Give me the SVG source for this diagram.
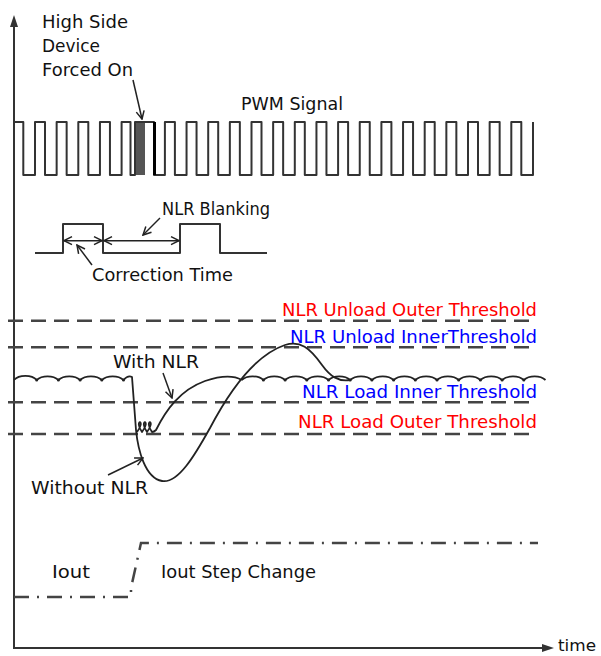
<svg xmlns="http://www.w3.org/2000/svg" width="601" height="656" viewBox="0 0 601 656">
<defs>
<style>
text{font-family:"DejaVu Sans","Liberation Sans",sans-serif;font-size:17px;fill:#111}
.red{fill:#ff0000}
.blue{fill:#0000ff}
.ax{stroke:#333;stroke-width:2;fill:none}
.sig{stroke:#333;stroke-width:2;fill:none;stroke-linejoin:round}
.dash{stroke:#444;stroke-width:2.5;fill:none;stroke-dasharray:15 8}
.dd{stroke:#444;stroke-width:2.5;fill:none;stroke-dasharray:15 8 2 8}
.arr{stroke:#222;stroke-width:1.5;fill:none;marker-end:url(#ah)}
.darr{stroke:#222;stroke-width:1.5;fill:none;marker-end:url(#ah);marker-start:url(#ah)}
.curve{stroke:#222;stroke-width:1.8;fill:none;stroke-linejoin:round}
</style>
<marker id="ah" markerUnits="userSpaceOnUse" markerWidth="10" markerHeight="10" viewBox="0 0 10 10" refX="9" refY="5" orient="auto-start-reverse">
<path d="M1,1 L9,5 L1,9" stroke="#222" stroke-width="1.5" fill="none"/>
</marker>
</defs>

<g id="axes">
<line class="ax" x1="14" y1="24" x2="14" y2="648"/>
<polygon points="14,15 10,27 18,27" fill="#333"/>
<line class="ax" x1="13" y1="648" x2="546" y2="648"/>
<polygon points="554,648 542,644 542,652" fill="#333"/>
<text x="558" y="651" style="font-size:15px" textLength="38" lengthAdjust="spacingAndGlyphs">time</text>
</g>

<g id="forced-on-label">
<text x="42" y="28" textLength="86" lengthAdjust="spacingAndGlyphs">High Side</text>
<text x="42" y="52" textLength="58" lengthAdjust="spacingAndGlyphs">Device</text>
<text x="42" y="76" textLength="91" lengthAdjust="spacingAndGlyphs">Forced On</text>
</g>

<g id="pwm-signal">
<rect x="135" y="122" width="10" height="53" fill="#555"/>
<path class="sig" d="M14,122 H23.3 V175 H35 V122 H45 V175 H56.65 V122 H66.65 V175 H78.3 V122 H88.3 V175 H99.95 V122 H109.95 V175 H121.6 V122 H130.5 V175 H135 V122 H154 V175 H164.9 V122 H174.9 V175 H186.55 V122 H196.55 V175 H208.2 V122 H218.2 V175 H229.85 V122 H239.85 V175 H251.5 V122 H261.5 V175 H273.15 V122 H283.15 V175 H294.8 V122 H304.8 V175 H316.45 V122 H326.45 V175 H338.1 V122 H348.1 V175 H359.75 V122 H369.75 V175 H381.4 V122 H391.4 V175 H403.05 V122 H413.05 V175 H424.7 V122 H434.7 V175 H446.35 V122 H456.35 V175 H468 V122 H478 V175 H489.65 V122 H499.65 V175 H511.3 V122 H521.3 V175 H533 V122"/>
<line x1="154.5" y1="122" x2="154.5" y2="175" stroke="#000" stroke-width="3"/>
<text x="241" y="110" textLength="102" lengthAdjust="spacingAndGlyphs">PWM Signal</text>
</g>

<g id="blanking">
<path class="sig" d="M35,253 H63 V224 H103 V253 H180 V224 H220 V253 H267"/>
<text x="162" y="215" textLength="108" lengthAdjust="spacingAndGlyphs">NLR Blanking</text>
<text x="92" y="281" textLength="141" lengthAdjust="spacingAndGlyphs">Correction Time</text>
</g>

<g id="thresholds">
<line class="dash" x1="8" y1="320.7" x2="537" y2="320.7"/>
<line class="dash" x1="8" y1="347.3" x2="537" y2="347.3"/>
<line class="dash" x1="8" y1="402.3" x2="537" y2="402.3"/>
<line class="dash" x1="8" y1="434" x2="537" y2="434"/>
<text class="red" x="282" y="316" textLength="255" lengthAdjust="spacingAndGlyphs">NLR Unload Outer Threshold</text>
<text class="blue" x="290" y="343" textLength="247" lengthAdjust="spacingAndGlyphs">NLR Unload InnerThreshold</text>
<text class="blue" x="302" y="398" textLength="235" lengthAdjust="spacingAndGlyphs">NLR Load Inner Threshold</text>
<text class="red" x="298" y="428" textLength="239" lengthAdjust="spacingAndGlyphs">NLR Load Outer Threshold</text>
</g>

<g id="output-voltage">
<path class="curve" d="M14,380 A13,8 0 0 1 36.7,380 A13,8 0 0 1 58.4,380 A13,8 0 0 1 80.1,380 A13,8 0 0 1 101.8,380 A13,8 0 0 1 123.5,380 Q128,375 132,377 L136,430"/>
<path class="curve" d="M241.7,380 A13,8 0 0 1 263.4,380 A13,8 0 0 1 285.1,380 A13,8 0 0 1 306.8,380 A13,8 0 0 1 328.5,380 A13,8 0 0 1 350.2,380 A13,8 0 0 1 371.9,380 A13,8 0 0 1 393.6,380 A13,8 0 0 1 415.3,380 A13,8 0 0 1 437,380 A13,8 0 0 1 458.7,380 A13,8 0 0 1 480.4,380 A13,8 0 0 1 502.1,380 A13,8 0 0 1 523.8,380 A13,8 0 0 1 545.5,380"/>
<g fill="#222">
<circle cx="36.7" cy="380" r="1.5"/><circle cx="58.4" cy="380" r="1.5"/><circle cx="80.1" cy="380" r="1.5"/><circle cx="101.8" cy="380" r="1.5"/><circle cx="123.5" cy="380" r="1.5"/>
<circle cx="263.4" cy="380" r="1.5"/><circle cx="285.1" cy="380" r="1.5"/><circle cx="306.8" cy="380" r="1.5"/><circle cx="328.5" cy="380" r="1.5"/><circle cx="350.2" cy="380" r="1.5"/><circle cx="371.9" cy="380" r="1.5"/><circle cx="393.6" cy="380" r="1.5"/><circle cx="415.3" cy="380" r="1.5"/><circle cx="437" cy="380" r="1.5"/><circle cx="458.7" cy="380" r="1.5"/><circle cx="480.4" cy="380" r="1.5"/><circle cx="502.1" cy="380" r="1.5"/><circle cx="523.8" cy="380" r="1.5"/>
</g>
</g>

<g id="with-nlr">
<path class="curve" d="M137,432 C147,419 133,419 142,432 C152,419 138,419 147,432 C157,419 143,419 152,432 C154,432 155,431 156,430 C166,410 180,390 205,381 C220,376 233,375 241.7,380"/>
<text x="113" y="368" textLength="86" lengthAdjust="spacingAndGlyphs">With NLR</text>
</g>

<g id="without-nlr">
<path class="curve" d="M136,430 C138,450 145,478 162,481 C178,484 195,455 210,428 C230,390 255,355 285,345 C300,340 310,348 322,365 C330,376 338,382 350.2,380"/>
<text x="31" y="494" textLength="117" lengthAdjust="spacingAndGlyphs">Without NLR</text>
</g>

<g id="iout">
<path class="dd" d="M14,597 H131 V588 L141,543 H538"/>
<text x="52" y="578" textLength="38" lengthAdjust="spacingAndGlyphs">Iout</text>
<text x="161" y="578" textLength="155" lengthAdjust="spacingAndGlyphs">Iout Step Change</text>
</g>

<g id="connectors">
<line class="arr" x1="133" y1="80" x2="142" y2="119"/>
<line class="darr" x1="64" y1="240.7" x2="102" y2="240.7"/>
<line class="darr" x1="104" y1="240.7" x2="179" y2="240.7"/>
<line class="arr" x1="160" y1="218" x2="143" y2="235"/>
<line class="arr" x1="92" y1="265" x2="77" y2="245"/>
<line class="arr" x1="163" y1="373" x2="172" y2="398"/>
<line class="arr" x1="108" y1="475" x2="143" y2="458"/>
</g>
</svg>
